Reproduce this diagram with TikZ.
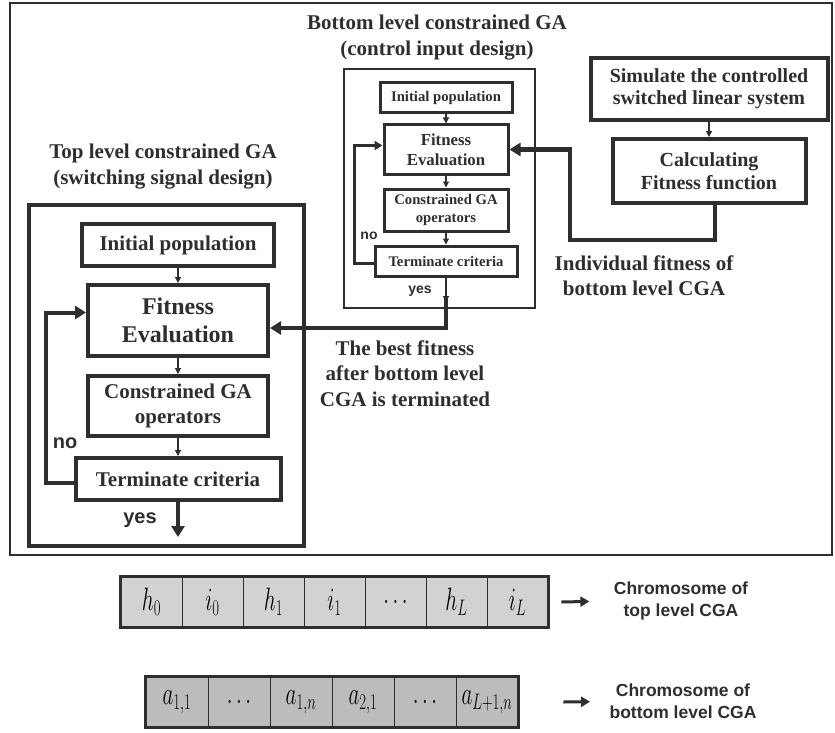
\documentclass[tikz,border=0pt]{standalone}
\usepackage{fontspec}
\setmainfont{Liberation Serif}
\setsansfont{Liberation Sans}
\usetikzlibrary{arrows.meta}

\definecolor{ink}{HTML}{2E2E2E}
\definecolor{geneTop}{HTML}{D2D2D2}
\definecolor{geneBot}{HTML}{BCBCBC}
\newcommand{\fs}[2]{\fontsize{#1}{#2}\selectfont}
\newcommand{\gene}[1]{\scalebox{0.85}[1.3]{$#1$}}

\tikzset{
  tlnode/.style={draw=ink, line width=4pt, inner sep=0pt, align=center, font=\bfseries\fs{21}{25}},
  blnode/.style={draw=ink, line width=3pt, inner sep=0pt, align=center, font=\bfseries\fs{14.7}{18}},
  levelbox/.style={draw=ink, inner sep=0pt},
  title/.style={align=center, font=\bfseries\fs{21}{26}},
  yesno/.style={font=\sffamily\bfseries\fs{20}{24}},
  smallyesno/.style={font=\sffamily\bfseries\fs{14}{17}},
  flowarrow/.style={draw=ink, line width=1.2pt, -{Triangle[length=6pt,width=6pt]}},
  loopline/.style={draw=ink, line width=4pt, -{Triangle[length=11pt,width=13pt]}},
  blloop/.style={draw=ink, line width=3pt, -{Triangle[length=8pt,width=9pt]}},
  genecell/.style={draw=ink, line width=0.8pt, inner sep=0pt, minimum height=50pt, text=black, font=\fs{25}{30}},
  chromarrow/.style={draw=ink, line width=3pt, -{Triangle[length=9pt,width=10pt]}},
  chromlabel/.style={align=center, font=\sffamily\bfseries\fs{17.5}{22}}
}

\begin{document}
\begin{tikzpicture}[x=1pt, y=-1pt, color=ink]
\useasboundingbox (0,0) rectangle (835,733);
\draw[line width=1.5pt] (10,3) rectangle (832,555);

% top level constrained GA
\node[title] (tlTitle) at (163,166.5) {Top level constrained GA\\(switching signal design)};
\node[levelbox, line width=4pt, minimum width=275pt, minimum height=341pt] (tlBox) at (166.5,375) {};
\node[tlnode, minimum width=192pt, minimum height=42pt] (tlInit) at (178,245) {Initial population};
\node[tlnode, minimum width=180pt, minimum height=71pt, font=\bfseries\fs{24}{28}] (tlFit) at (178,320.5) {Fitness\\Evaluation};
\node[tlnode, minimum width=180pt, minimum height=60pt] (tlOps) at (178,406) {Constrained GA\\operators};
\node[tlnode, minimum width=205pt, minimum height=42pt] (tlTerm) at (178,479) {Terminate criteria};
\coordinate (tlOut) at (178,537);
\draw[flowarrow] (tlInit) -- (tlFit);
\draw[flowarrow] (tlFit) -- (tlOps);
\draw[flowarrow] (tlOps) -- (tlTerm);
\draw[loopline] ([yshift=-4pt]tlTerm.west) -- ++(-28,0) |- ([yshift=8pt]tlFit.west);
\draw[loopline] (tlTerm) -- (tlOut);
\node[yesno] (tlNo) at (65,443) {no};
\node[yesno] (tlYes) at (140,520) {yes};

% bottom level constrained GA
\node[title] (blTitle) at (437,38) {Bottom level constrained GA\\(control input design)};
\node[levelbox, line width=2.5pt, minimum width=191pt, minimum height=239pt] (blBox) at (439.5,188.5) {};
\node[blnode, minimum width=132pt, minimum height=30pt] (blInit) at (446,98) {Initial population};
\node[blnode, minimum width=124pt, minimum height=49pt, font=\bfseries\fs{16.8}{20}] (blFit) at (446,149.5) {Fitness\\Evaluation};
\node[blnode, minimum width=124pt, minimum height=42pt] (blOps) at (446,210) {Constrained GA\\operators};
\node[blnode, minimum width=142pt, minimum height=30pt] (blTerm) at (446,261) {Terminate criteria};
\coordinate (blOut) at (446,302);
\draw[flowarrow] (blInit) -- (blFit);
\draw[flowarrow] (blFit) -- (blOps);
\draw[flowarrow] (blOps) -- (blTerm);
\draw[blloop] ([yshift=-2pt]blTerm.west) -- ++(-19,0) |- ([yshift=4pt]blFit.west);
\draw[flowarrow] (blTerm) -- (blOut);
\node[smallyesno] (blNo) at (369,236) {no};
\node[smallyesno] (blYes) at (420,291) {yes};

% best fitness back to the top level
\draw[loopline] ([yshift=4pt]blOut) |- ([yshift=-7.5pt]tlFit.east);
\node[title, font=\bfseries\fs{21}{25.5}] (bestText) at (405,373.5) {The best fitness\\after bottom level\\CGA is terminated};

% simulation and fitness function
\node[tlnode, font=\bfseries\fs{20}{22}, minimum width=237pt, minimum height=62pt] (simBox) at (709,89) {Simulate the controlled\\switched linear system};
\node[tlnode, font=\bfseries\fs{20}{23}, minimum width=193pt, minimum height=64pt] (calcBox) at (709,171) {Calculating\\Fitness function};
\draw[flowarrow] (simBox) -- (calcBox);
\draw[loopline] ([xshift=6pt]calcBox.south) |- ++(-145,35) |- (blFit.east);
\node[title, font=\bfseries\fs{21}{25}] (indivText) at (644,275.5) {Individual fitness of\\bottom level CGA};

% chromosomes
\foreach \g [count=\k] in {h_0,i_0,h_1,i_1,\dots,h_L,i_L}
  \node[genecell, fill=geneTop, minimum width=61pt] (t\k) at ({121+61*(\k-0.5)},602) {\gene{\g}};
\draw[line width=3pt] (t1.north west) rectangle (t7.south east);
\foreach \g [count=\k] in {{a_{1,1}},\dots,{a_{1,n}},{a_{2,1}},\dots,{a_{L+1,n}}}
  \node[genecell, fill=geneBot, minimum width=62pt] (b\k) at ({146+62*(\k-0.5)},702) {\gene{\g}};
\draw[line width=3pt] (b1.north west) rectangle (b6.south east);

\node[chromlabel] (labT) at (681,601) {Chromosome of\\top level CGA};
\node[chromlabel] (labB) at (683,701.5) {Chromosome of\\bottom level CGA};
\draw[chromarrow, shorten >=21pt] ([xshift=13pt]t7.east) -- (labT.west);
\draw[chromarrow, shorten >=16pt] ([xshift=45pt]b6.east) -- (labB.west);
\end{tikzpicture}
\end{document}
